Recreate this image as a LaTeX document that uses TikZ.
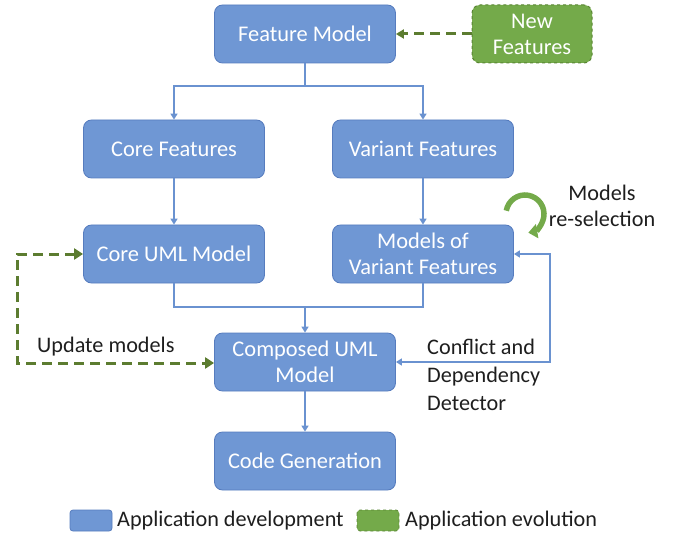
\documentclass[tikz,border=0pt]{standalone}
\usepackage{fontspec}
\setmainfont{Carlito}
\usetikzlibrary{arrows.meta}
\definecolor{boxblue}{RGB}{111,151,212}
\definecolor{boxblueedge}{RGB}{86,124,190}
\definecolor{lineblue}{RGB}{106,146,208}
\definecolor{evgreen}{RGB}{116,170,74}
\definecolor{evgreenedge}{RGB}{88,132,50}
\definecolor{dashgreen}{RGB}{92,124,48}
\definecolor{txt}{RGB}{30,30,30}
\begin{document}
\begin{tikzpicture}[x=1bp,y=-1bp,
  devbox/.style={draw=boxblueedge,fill=boxblue,rounded corners=8bp,minimum width=181bp,minimum height=58bp,
    text=white,font=\fontsize{22.5}{26}\selectfont,align=center,line width=0.8bp,inner sep=0pt},
  evbox/.style={draw=evgreenedge,fill=evgreen,dashed,rounded corners=8bp,minimum width=120bp,minimum height=58bp,
    text=white,font=\fontsize{22.5}{26}\selectfont,align=center,line width=1bp,inner sep=0pt},
  bl/.style={draw=lineblue,line width=1.6bp},
  bla/.style={bl,-{Triangle[width=7bp,length=6bp]}},
  gd/.style={draw=dashgreen,line width=3bp,dash pattern=on 10bp off 6bp},
  lbl/.style={text=txt,font=\fontsize{22.3}{28}\selectfont,inner sep=0pt}
]
\useasboundingbox (0,0) rectangle (678,539);

\node[devbox] (fm) at (305,34) {Feature Model};
\node[evbox] (nf) at (532,34) {New\\Features};
\node[devbox] (cf) at (174,149) {Core Features};
\node[devbox] (vf) at (423,149) {Variant Features};
\node[devbox] (cu) at (174,254) {Core UML Model};
\node[devbox] (mv) at (423,254) {Models of\\Variant Features};
\node[devbox] (comp) at (305,362) {Composed UML\\Model};
\node[devbox] (cg) at (305,461) {Code Generation};

\coordinate (s1) at (305,86);
\draw[bl] (fm.south) -- (s1);
\draw[bla] (s1) -| (cf.north);
\draw[bla] (s1) -| (vf.north);
\draw[bla] (cf) -- (cu);
\draw[bla] (vf) -- (mv);
\coordinate (s2) at (305,307);
\draw[bl] (cu.south) |- (s2);
\draw[bl] (mv.south) |- (s2);
\draw[bla] (s2) -- (comp.north);
\draw[bla] (comp) -- (cg);

\coordinate (r2) at (550,362);
\draw[bl,{Triangle[width=7bp,length=6bp]}-{Triangle[width=7bp,length=6bp]}] (mv.east) -| (r2) -- (comp.east);

\draw[gd,-{Triangle[width=9bp,length=8bp]}] (nf.west) -- (fm.east);
\coordinate (l2) at (17,363);
\draw[gd,{Triangle[width=11bp,length=9bp]}-{Triangle[width=11bp,length=9bp]}] (cu.west) -| (l2) -- (comp.west |- l2);

\draw[draw=evgreen,line width=5.5bp,-{Triangle[width=14bp,length=9bp]}] (525,214) ++(190:19) arc[start angle=190,end angle=440,radius=19];

\node[lbl,anchor=base west] (um) at (37,352) {Update models};
\node[lbl,anchor=west,align=left] (cd) at (427,375) {Conflict and\\Dependency\\Detector};
\node[lbl,align=center,font=\fontsize{22.3}{26}\selectfont] (mr) at (602,206) {Models\\re-selection};

\draw[draw=boxblueedge,fill=boxblue,rounded corners=3bp,line width=0.8bp] (70,510) rectangle (112,531);
\node[lbl,anchor=west] (ld) at (117,521) {Application development};
\draw[draw=evgreenedge,fill=evgreen,dashed,rounded corners=3bp,line width=0.8bp] (357,510) rectangle (399,531);
\node[lbl,anchor=west] (le) at (405,521) {Application evolution};
\end{tikzpicture}
\end{document}
